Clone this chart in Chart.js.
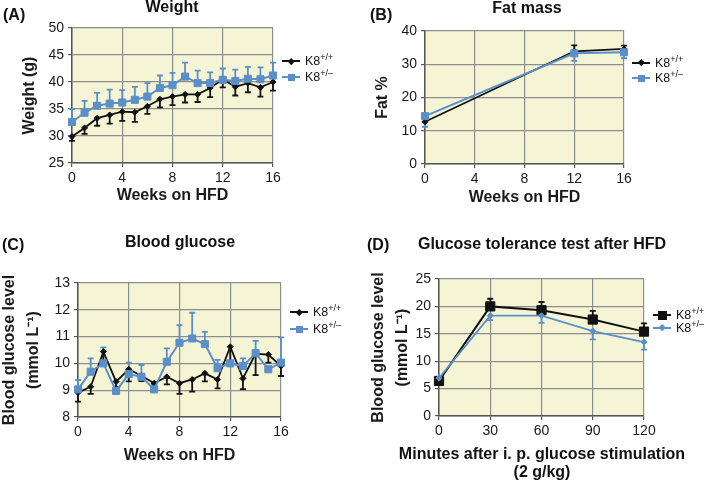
<!DOCTYPE html>
<html>
<head>
<meta charset="utf-8">
<script src="https://cdn.jsdelivr.net/npm/chart.js@4/dist/chart.umd.min.js"></script>
<style>
  body { margin: 0; background: #fff; font-family: "Liberation Sans", Arial, sans-serif; }
  #wrap { position: relative; width: 709px; height: 482px; overflow: hidden; }
  canvas { position: absolute; }
  .lbl { position: absolute; font-weight: bold; font-size: 16px; line-height: 16px; white-space: nowrap; color: #111; }
  .ttl { transform: translateX(-50%); text-align: center; }
  .leg { position: absolute; font-size: 12.5px; line-height: 12px; white-space: nowrap; color: #111; padding-left: 23px; }
  .leg .sw { position: absolute; left: 0; top: 5px; width: 18px; height: 2px; }
  .leg .mk { position: absolute; }
  .leg sup { font-size: 9px; line-height: 0; vertical-align: 5px; }
</style>
</head>
<body>
<div id="wrap">
  <canvas id="cA"></canvas>
  <canvas id="cB"></canvas>
  <canvas id="cC"></canvas>
  <canvas id="cD"></canvas>

  <div class="lbl" style="left:3px;top:7px">(A)</div>
  <div class="lbl ttl" style="left:172px;top:-1px">Weight</div>
  <div class="lbl" style="left:370px;top:7px">(B)</div>
  <div class="lbl ttl" style="left:527px;top:0px">Fat mass</div>
  <div class="lbl" style="left:2px;top:237px">(C)</div>
  <div class="lbl ttl" style="left:180px;top:234px">Blood glucose</div>
  <div class="lbl" style="left:367px;top:237px">(D)</div>
  <div class="lbl ttl" style="left:542px;top:236px">Glucose tolerance test after HFD</div>
  <div class="lbl ttl" style="left:542px;top:445px;line-height:18px">Minutes after i. p. glucose stimulation<br>(2 g/kg)</div>
</div>

<script>
// ---- data ----
const weeks = [0, 1, 2, 3, 4, 5, 6, 7, 8, 9, 10, 11, 12, 13, 14, 15, 16];

const weightWT     = [29.9, 31.5, 33.3, 33.9, 34.5, 34.4, 35.5, 36.8, 37.3, 37.7, 37.7, 38.9, 40.5, 39.1, 39.8, 39.0, 40.0];
const weightWTErr  = [0.8, 1.1, 1.4, 1.6, 1.7, 1.8, 1.4, 1.5, 1.6, 1.5, 1.4, 1.7, 1.5, 1.6, 1.7, 1.7, 1.6];
const weightHet    = [32.6, 34.3, 35.6, 36.0, 36.2, 36.7, 37.3, 38.9, 39.4, 41.0, 39.8, 39.8, 40.4, 40.2, 40.6, 40.5, 41.2];
const weightHetErr = [2.4, 2.2, 2.4, 2.6, 2.3, 2.4, 2.5, 2.3, 2.3, 2.6, 2.3, 2.0, 2.1, 2.1, 2.2, 2.2, 2.4];

const fatWeeks  = [0, 12, 16];
const fatWT     = [12.7, 33.9, 34.6];
const fatWTErr  = [1.5, 1.8, 1.0];
const fatHet    = [14.4, 33.3, 33.6];
const fatHetErr = [3.2, 2.3, 1.8];

const glucoseWT     = [8.91, 9.13, 10.44, 9.32, 9.78, 9.54, 9.26, 9.50, 9.26, 9.40, 9.63, 9.40, 10.62, 9.44, 10.36, 10.33, 9.90];
const glucoseWTErr  = [0.34, 0.27, 0.40, 0.20, 0.45, 0.20, 0.12, 0.28, 0.40, 0.45, 0.30, 0.33, 0.60, 0.40, 0.80, 0.30, 0.37];
const glucoseHet    = [9.03, 9.69, 10.0, 8.97, 9.60, 9.50, 9.03, 10.06, 10.77, 10.93, 10.72, 9.82, 10.0, 9.90, 10.38, 9.78, 10.03];
const glucoseHetErr = [0.35, 0.50, 0.60, 0.10, 0.43, 0.44, 0.20, 0.50, 0.66, 0.96, 0.46, 0.31, 0.10, 0.29, 0.46, 0.10, 0.94];

const gttMinutes = [0, 30, 60, 90, 120];
const gttWT      = [6.4, 20.0, 19.3, 17.6, 15.4];
const gttWTErr   = [0.5, 1.4, 1.5, 1.6, 1.5];
const gttHet     = [6.9, 18.3, 18.3, 15.5, 13.5];
const gttHetErr  = [0.3, 0.8, 1.3, 1.5, 1.4];

// ---- styles ----
const BLUE = "#5b8fc9";
const BLACK = "#111111";
const PLOT_BG = "#f5f5d6";
const GRID = "#8e8e8e";
const AXIS = "#555555";

Chart.defaults.font.family = "'Liberation Sans', Arial, Helvetica, sans-serif";
Chart.defaults.color = "#1a1a1a";

const plotBg = {
  id: "plotBg",
  beforeDraw(chart) {
    const { ctx, chartArea: a } = chart;
    ctx.save();
    ctx.fillStyle = PLOT_BG;
    ctx.fillRect(a.left, a.top, a.right - a.left, a.bottom - a.top);
    ctx.restore();
  }
};

// one-sided error bars (errDir +1 = up, -1 = down)
const errorBars = {
  id: "errorBars",
  beforeDatasetsDraw(chart) {
    const { ctx } = chart;
    const xs = chart.scales.x, ys = chart.scales.y;
    ctx.save();
    chart.data.datasets.forEach(ds => {
      if (!ds.err) return;
      ctx.strokeStyle = ds.borderColor;
      ctx.lineWidth = 1.8;
      ds.data.forEach((p, j) => {
        const x = xs.getPixelForValue(p.x);
        const y0 = ys.getPixelForValue(p.y);
        const y1 = ys.getPixelForValue(p.y + ds.errDir * ds.err[j]);
        ctx.beginPath();
        ctx.moveTo(x, y0); ctx.lineTo(x, y1);
        ctx.moveTo(x - 3, y1); ctx.lineTo(x + 3, y1);
        ctx.stroke();
      });
    });
    ctx.restore();
  }
};

function series(xv, yv, err, dir, color, shape, r, width) {
  return {
    data: xv.map((x, i) => ({ x, y: yv[i] })),
    err, errDir: dir,
    borderColor: color, backgroundColor: color,
    pointStyle: shape, pointRadius: r, pointHoverRadius: r, pointBorderWidth: 1,
    borderWidth: width, tension: 0, clip: false
  };
}

// rect = canvas [x, y, w, h], area = plot [left, top, right, bottom] in page pixels
function makePanel(id, rect, area, o) {
  const [cx, cy, cw, ch] = rect;
  const [l, t, r, b] = area;
  const cv = document.getElementById(id);
  cv.style.left = cx + "px";
  cv.style.top = cy + "px";
  cv.width = cw;
  cv.height = ch;
  const yLh = 16 * o.yLh, xLh = 16 * o.xLh;

  return new Chart(cv, {
    type: "line",
    data: { datasets: o.datasets },
    options: {
      responsive: false,
      animation: false,
      devicePixelRatio: 1,
      layout: { padding: { left: 0, top: t - cy, right: cx + cw - r, bottom: 0 } },
      plugins: { legend: { display: false }, tooltip: { enabled: false } },
      scales: {
        x: {
          type: "linear", min: o.x[0], max: o.x[1],
          ticks: { stepSize: o.x[2], font: { size: 14 }, padding: 3, maxRotation: 0 },
          grid: { color: GRID, lineWidth: 1.2, tickLength: 4, tickColor: AXIS },
          border: { color: AXIS, width: 1.5 },
          title: {
            display: !!o.xTitle, text: o.xTitle || "",
            font: { size: 16, weight: "bold", lineHeight: o.xLh },
            padding: { top: 0, bottom: cy + ch - o.xTitleY - xLh / 2 }
          },
          afterFit(s) { s.height = cy + ch - b; s.paddingLeft = 0; s.paddingRight = 0; }
        },
        y: {
          min: o.y[0], max: o.y[1],
          ticks: { stepSize: o.y[2], font: { size: 14 }, padding: 4 },
          grid: { color: GRID, lineWidth: 1.2, tickLength: 4, tickColor: AXIS },
          border: { color: AXIS, width: 1.5 },
          title: {
            display: true, text: o.yTitle,
            font: { size: 16, weight: "bold", lineHeight: o.yLh },
            padding: { top: o.yTitleX - cx - yLh / 2, bottom: 0 }
          },
          afterFit(s) { s.width = l - cx; s.paddingTop = 0; s.paddingBottom = 0; }
        }
      }
    },
    plugins: [plotBg, errorBars]
  });
}

makePanel("cA", [0, 0, 355, 230], [72, 28, 273, 163], {
  x: [0, 16, 4], y: [25, 50, 5],
  xTitle: "Weeks on HFD", xTitleY: 196, xLh: 1.2,
  yTitle: "Weight (g)", yTitleX: 30, yLh: 1.2,
  datasets: [
    series(weeks, weightHet, weightHetErr, 1, BLUE, "rect", 5, 2),
    series(weeks, weightWT, weightWTErr, -1, BLACK, "rectRot", 3, 1.8)
  ]
});

makePanel("cB", [357, 0, 352, 230], [425, 31, 624, 164], {
  x: [0, 16, 4], y: [0, 40, 10],
  xTitle: "Weeks on HFD", xTitleY: 197.5, xLh: 1.2,
  yTitle: "Fat %", yTitleX: 383, yLh: 1.2,
  datasets: [
    series(fatWeeks, fatHet, fatHetErr, -1, BLUE, "rect", 5, 2),
    series(fatWeeks, fatWT, fatWTErr, 1, BLACK, "rectRot", 3, 1.8)
  ]
});

makePanel("cC", [-4, 230, 359, 252], [78, 283, 281, 417], {
  x: [0, 16, 4], y: [8, 13, 1],
  xTitle: "Weeks on HFD", xTitleY: 456, xLh: 1.2,
  yTitle: ["Blood glucose level", "(mmol L\u207B\u00B9)"], yTitleX: 10, yLh: 1.5,
  datasets: [
    series(weeks, glucoseHet, glucoseHetErr, 1, BLUE, "rect", 5, 2),
    series(weeks, glucoseWT, glucoseWTErr, -1, BLACK, "rectRot", 3, 1.8)
  ]
});

// x title of D is in the html (too wide for the canvas title's max width)
makePanel("cD", [357, 230, 352, 252], [439, 279, 644, 416], {
  x: [0, 120, 30], y: [0, 25, 5],
  xTitle: null, xTitleY: 472, xLh: 1.15,
  yTitle: ["Blood glucose level", "(mmol L\u207B\u00B9)"], yTitleX: 378.5, yLh: 1.5,
  datasets: [
    series(gttMinutes, gttHet, gttHetErr, -1, BLUE, "rectRot", 3, 1.8),
    series(gttMinutes, gttWT, gttWTErr, 1, BLACK, "rect", 6.5, 2)
  ]
});

// ---- legends (html so the genotype can be superscripted) ----
function legendRow(x, y, color, shape, size, sup) {
  const row = document.createElement("div");
  row.className = "leg";
  row.style.left = x + "px";
  row.style.top = (y - 6) + "px";
  const rot = shape === "diamond" ? "transform:rotate(45deg);" : "";
  row.innerHTML =
    `<span class="sw" style="background:${color}"></span>` +
    `<span class="mk" style="background:${color};width:${size}px;height:${size}px;` +
    `left:${9 - size / 2}px;top:${6 - size / 2}px;${rot}"></span>K8<sup>${sup}</sup>`;
  document.getElementById("wrap").appendChild(row);
}

legendRow(282, 61, BLACK, "diamond", 4.5, "+/+");
legendRow(282, 77, BLUE, "square", 7, "+/\u2013");
legendRow(632, 62.5, BLACK, "diamond", 4.5, "+/+");
legendRow(632, 78, BLUE, "square", 7, "+/\u2013");
legendRow(290, 312, BLACK, "diamond", 4.5, "+/+");
legendRow(290, 329, BLUE, "square", 7, "+/\u2013");
legendRow(653, 315, BLACK, "square", 9, "+/+");
legendRow(653, 327.5, BLUE, "diamond", 4.5, "+/\u2013");
</script>
</body>
</html>
